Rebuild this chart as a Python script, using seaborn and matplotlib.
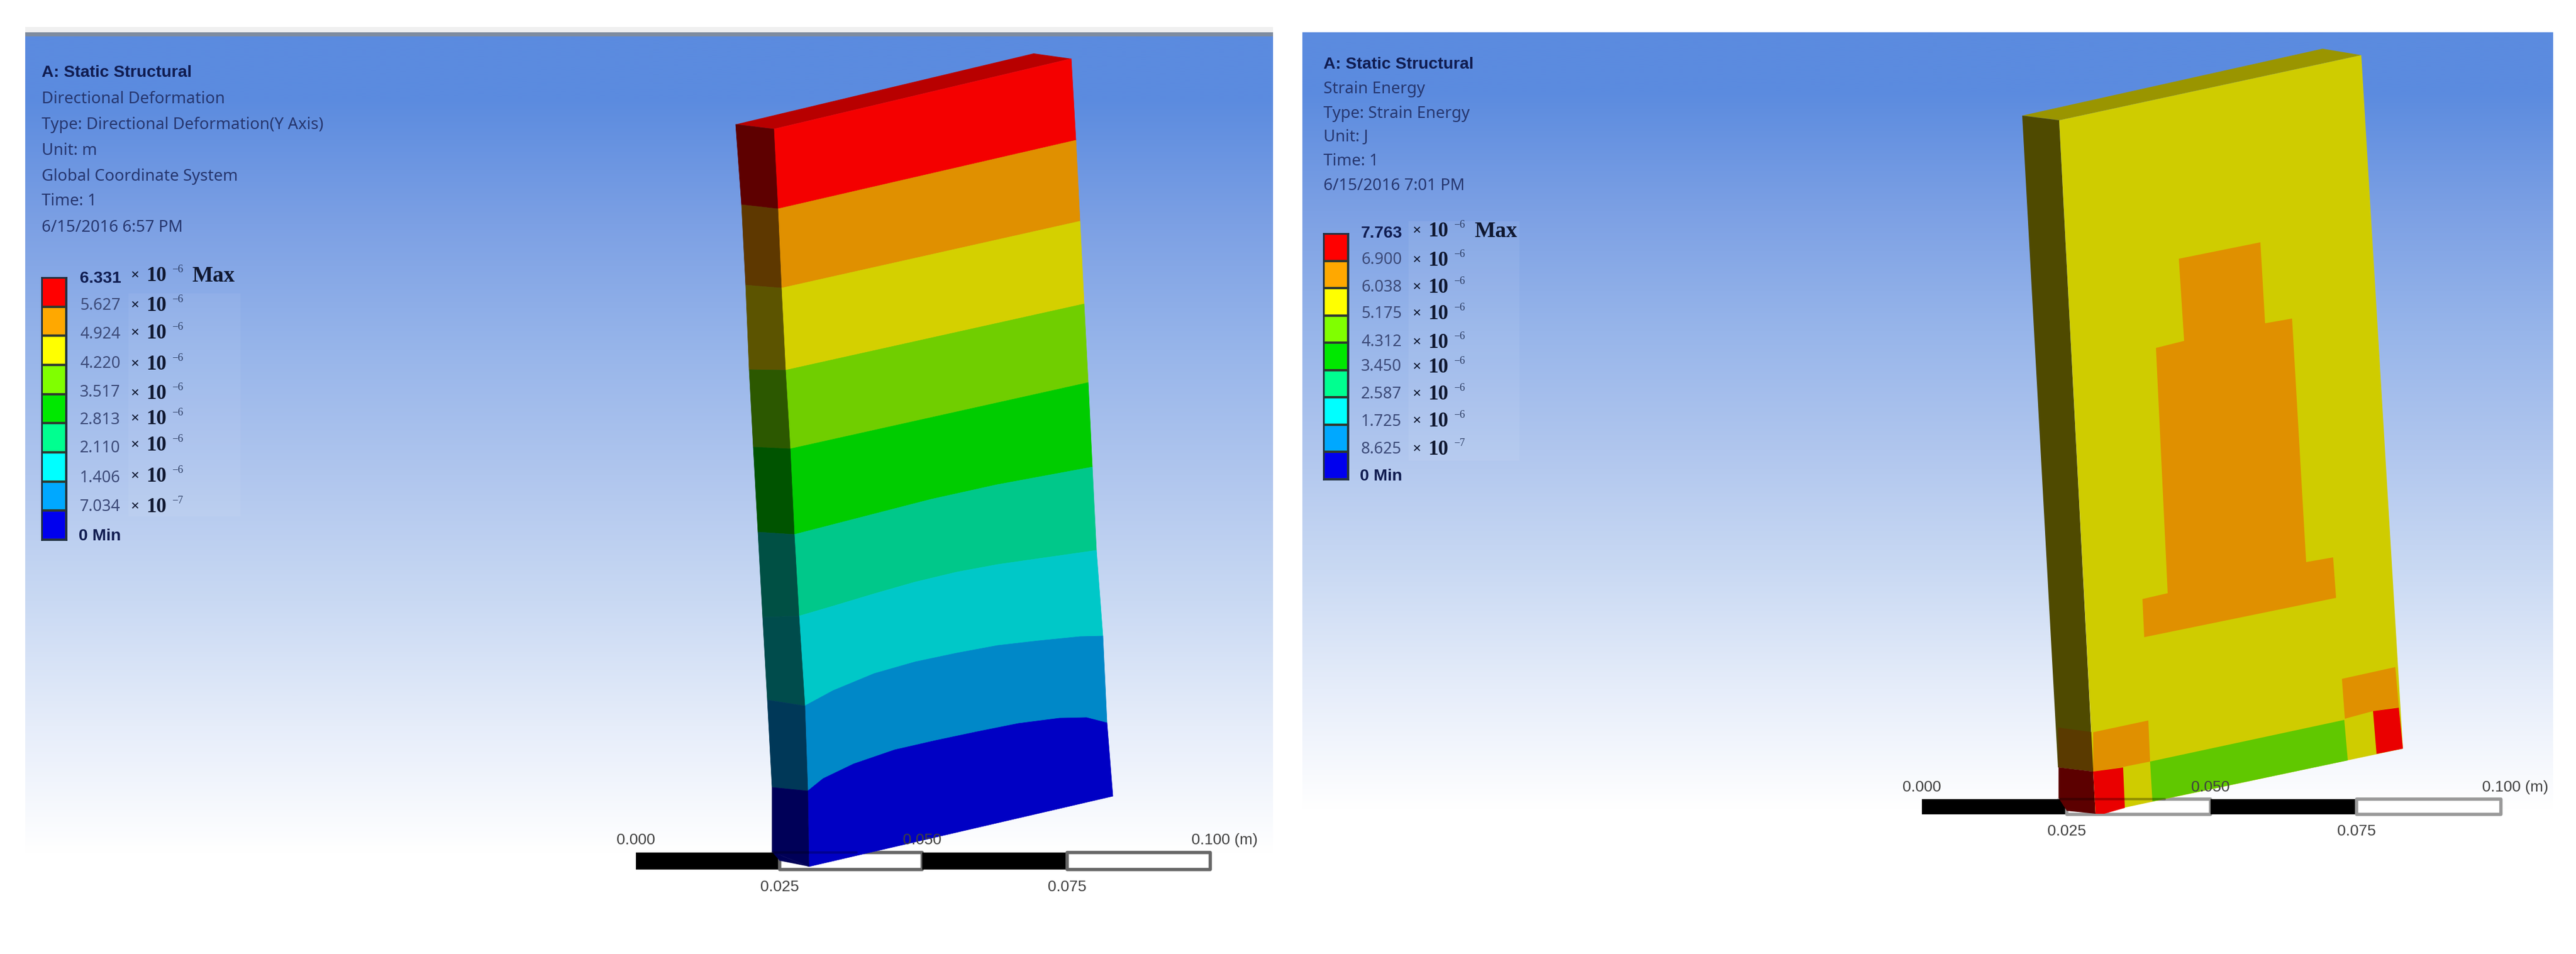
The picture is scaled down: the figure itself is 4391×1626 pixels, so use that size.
import matplotlib
matplotlib.use("Agg")
import matplotlib.pyplot as plt
from matplotlib.colors import ListedColormap, to_rgb
import numpy as np
import seaborn as sns

W, H = 4391, 1626

# contour legend, top to bottom
legend_colors = ["#ff0000", "#ffa800", "#ffff00", "#80ff00", "#00e800",
                 "#00ff90", "#00ffff", "#00a8ff", "#0000ee"]

left_header = ["A: Static Structural", "Directional Deformation", "Type: Directional Deformation(Y Axis)",
               "Unit: m", "Global Coordinate System", "Time: 1", "6/15/2016 6:57 PM"]
left_header_y = [124, 169, 213, 257, 301, 343, 388]
left_values = ["6.331", "5.627", "4.924", "4.220", "3.517", "2.813", "2.110", "1.406", "7.034"]
left_exps = ["−6", "−6", "−6", "−6", "−6", "−6", "−6", "−6", "−7"]
left_value_y = [475, 521, 570, 620, 669, 716, 764, 815, 864]
left_power_y = [470, 521, 568, 621, 671, 714, 759, 812, 864]

right_header = ["A: Static Structural", "Strain Energy", "Type: Strain Energy", "Unit: J", "Time: 1",
                "6/15/2016 7:01 PM"]
right_header_y = [110, 152, 194, 234, 275, 317]
right_values = ["7.763", "6.900", "6.038", "5.175", "4.312", "3.450", "2.587", "1.725", "8.625"]
right_exps = ["−6", "−6", "−6", "−6", "−6", "−6", "−6", "−6", "−7"]
right_value_y = [398, 443, 490, 535, 583, 625, 672, 719, 766]
right_power_y = [394, 444, 490, 535, 584, 626, 672, 718, 766]

# background gradient, equally spaced from top to bottom of a panel
bg_stops = ["#5b8bdf", "#7ca0e4", "#97b5ea", "#b0c6ee", "#c9d9f3", "#e6edfa", "#ffffff"]

# deformation plate: contour lines across the front face, top to bottom
front_lines = [
    [(1319, 220), (1826, 100)],
    [(1326, 356), (1834, 239)],
    [(1332, 491), (1841, 377)],
    [(1339, 631), (1848, 518)],
    [(1347, 765), (1855, 652)],
    [(1354, 911), (1587, 851), (1700, 826), (1862, 796)],
    [(1362, 1050), (1420, 1033), (1490, 1012), (1560, 992), (1631, 975), (1701, 962), (1771, 952), (1869, 938)],
    [(1372, 1203), (1420, 1177), (1490, 1148), (1560, 1128), (1631, 1113), (1701, 1100), (1771, 1092),
     (1841, 1085), (1880, 1084)],
    [(1377, 1348), (1403, 1327), (1455, 1302), (1525, 1278), (1595, 1262), (1666, 1247), (1736, 1233),
     (1806, 1224), (1852, 1223), (1887, 1232)],
    [(1379, 1477), (1897, 1357)],
]
front_colors = ["#f40000", "#e09000", "#d4d000", "#70ce00", "#00cc00",
                "#00c88a", "#00c8c8", "#0088c8", "#0000c4"]
side_outer = [(1254, 212), (1264, 349), (1271, 486), (1277, 630), (1284, 762),
              (1292, 907), (1300, 1052), (1308, 1193), (1316, 1342), (1316, 1452)]
side_colors = ["#5e0000", "#5e3800", "#5c5400", "#2c5800", "#005400",
               "#005044", "#004c4c", "#003858", "#000058"]
left_top_face = [(1254, 212), (1762, 91), (1826, 100), (1319, 220)]

# strain energy plate
right_front = [(3510, 205), (4025, 94), (4096, 1276), (3572, 1387)]
right_side = [(3447, 197), (3510, 205), (3568, 1315), (3508, 1308)]
right_side_brown = [(3508, 1240), (3568, 1248), (3568, 1315), (3509, 1308)]
right_side_red = [(3509, 1308), (3568, 1315), (3572, 1387), (3523, 1382), (3509, 1360)]
right_top_face = [(3447, 197), (3959, 83), (4025, 94), (3510, 205)]
orange_body = [(3714, 441), (3853, 413), (3861, 551), (3907, 543), (3931, 958), (3977, 950),
               (3982, 1019), (3655, 1086), (3652, 1021), (3695, 1011), (3675, 593), (3723, 581)]
orange_low_left = [(3568, 1248), (3662, 1228), (3665, 1298), (3620, 1307), (3568, 1315)]
orange_low_right = [(3992, 1157), (4083, 1137), (4089, 1205), (4045, 1212), (3997, 1225)]
red_low_left = [(3568, 1315), (3619, 1308), (3622, 1377), (3587, 1387), (3572, 1387)]
red_low_right = [(4045, 1212), (4089, 1206), (4096, 1276), (4051, 1285)]
green_strip = [(3665, 1298), (3996, 1227), (4002, 1296), (3669, 1366)]

sns.set_theme(style="white")
plt.rcParams["font.family"] = ["Noto Sans", "DejaVu Sans"]

fig = plt.figure(figsize=(W / 100, H / 100), dpi=100, facecolor="white")
ax = fig.add_axes([0, 0, 1, 1])
ax.set_axis_off()

grad = np.array([[to_rgb(c)] for c in bg_stops])
ax.imshow(grad, extent=(43, 2170, 1560, 62), aspect="auto", interpolation="bilinear", zorder=0)
ax.imshow(grad, extent=(2220, 4352, 1480, 56), aspect="auto", interpolation="bilinear", zorder=0)
ax.fill_between([43, 2170], 46, 55, color="#f0f0f0", lw=0, zorder=1)
ax.fill_between([43, 2170], 55, 62, color="#7f8c9f", lw=0, zorder=1)
ax.set_xlim(0, W)
ax.set_ylim(H, 0)

# faint patches behind the pasted legend values
ax.fill_between([219, 410], 500, 880, color="white", alpha=0.06, lw=0, zorder=1)
ax.fill_between([2401, 2590], 377, 785, color="white", alpha=0.07, lw=0, zorder=1)

# Noto Sans has no bold here, so bold lines use Liberation Sans
bold_kw = dict(family="Liberation Sans", fontweight="bold", fontsize=20.3, color="#101c50", va="center", zorder=5)


def draw_scale(x_ticks, y0, y1, y_up, y_low, border):
    for i in range(4):
        if i % 2 == 0:
            ax.fill_between(x_ticks[i:i + 2], y0, y1, color="black", lw=0, zorder=2)
        else:
            ax.fill_between(x_ticks[i:i + 2], y0, y1, facecolor="white", edgecolor=border, lw=4, zorder=2)
    kw = dict(family="Liberation Sans", fontsize=19, color="#404040", va="center", zorder=5)
    ax.text(x_ticks[0], y_up, "0.000", ha="center", **kw)
    ax.text(x_ticks[1], y_low, "0.025", ha="center", **kw)
    ax.text(x_ticks[2], y_up, "0.050", ha="center", **kw)
    ax.text(x_ticks[3], y_low, "0.075", ha="center", **kw)
    ax.text(x_ticks[4] - 32, y_up, "0.100 (m)", ha="left", **kw)


def draw_legend(bar_box, values, exps, value_y, power_y, x_val, x_times, x_ten, x_exp, x_max, y_min):
    x0, x1, y0, y1 = bar_box
    cax = fig.add_axes([x0 / W, 1 - y1 / H, (x1 - x0) / W, (y1 - y0) / H])
    levels = np.arange(len(legend_colors)).reshape(-1, 1)
    sns.heatmap(levels, cmap=ListedColormap(legend_colors), cbar=False, linewidths=1.5, linecolor="#303a30",
                xticklabels=False, yticklabels=False, ax=cax)
    for s in cax.spines.values():
        s.set_visible(True)
        s.set_color("#203040")
        s.set_linewidth(2)
    serif = dict(family="Liberation Serif", fontweight="bold", color="#101830", zorder=5)
    for i, (val, ex) in enumerate(zip(values, exps)):
        if i == 0:
            ax.text(x_val, value_y[i], val, **bold_kw)
        else:
            ax.text(x_val, value_y[i], val, fontsize=19.5, color="#3c4a78", va="center", zorder=5)
        ax.text(x_times, power_y[i], "×", fontsize=19, ha="center", va="center", **serif)
        ax.text(x_ten, power_y[i], "10", fontsize=25, ha="left", va="center", **serif)
        ax.text(x_exp, power_y[i] - 11, ex, fontsize=13, ha="left", va="center",
                family="Liberation Serif", color="#2a3a60", zorder=5)
    ax.text(x_max, power_y[0], "Max", fontsize=27, ha="left", va="center", **serif)
    ax.text(x_val - 2, y_min, "0 Min", **bold_kw)


def draw_header(x, lines, ys):
    ax.text(x, ys[0], lines[0], **bold_kw)
    for line, y in zip(lines[1:], ys[1:]):
        ax.text(x, y, line, fontsize=19.8, color="#26366e", va="center", zorder=5)


# left panel
draw_header(71, left_header, left_header_y)
draw_legend((71, 113, 473, 920), left_values, left_exps, left_value_y, left_power_y, 136, 230, 249, 293, 327, 914)
draw_scale([1084, 1329, 1572, 1819, 2063], 1453, 1482, 1432, 1512, "#666666")

ax.fill(*zip(*left_top_face), color="#b80000", lw=0, zorder=3)
for i in range(len(front_colors)):
    top, bottom = front_lines[i], front_lines[i + 1]
    inner_top, inner_bottom = top[0], bottom[0]
    band = top + bottom[::-1]
    ax.fill(*zip(*band), color=front_colors[i], lw=0.5, zorder=3)
    side = [side_outer[i], inner_top, inner_bottom, side_outer[i + 1]]
    ax.fill(*zip(*side), color=side_colors[i], lw=0.5, zorder=3)
ax.fill([1316, 1379, 1329], [1452, 1477, 1467], color=side_colors[-1], lw=0, zorder=3)
ax.plot([1316, 1460], [1453, 1453], color="black", alpha=0.25, lw=3, zorder=4)

# right panel
draw_header(2256, right_header, right_header_y)
draw_legend((2256, 2298, 398, 817), right_values, right_exps, right_value_y, right_power_y,
            2320, 2415, 2434, 2478, 2513, 812)
draw_scale([3276, 3523, 3768, 4017, 4263], 1362, 1388, 1342, 1417, "#999999")

ax.fill(*zip(*right_top_face), color="#9a9500", lw=0, zorder=3)
ax.fill(*zip(*right_side), color="#4f4a00", lw=0, zorder=3)
ax.fill(*zip(*right_side_brown), color="#5a3a00", lw=0, zorder=3)
ax.fill(*zip(*right_side_red), color="#5c0000", lw=0, zorder=3)
ax.fill(*zip(*right_front), color="#cfcc00", lw=0, zorder=3)
for poly, col in [(orange_body, "#e09000"), (orange_low_left, "#e09000"), (orange_low_right, "#e09000"),
                  (red_low_left, "#ea0000"), (red_low_right, "#ea0000"), (green_strip, "#60c800")]:
    ax.fill(*zip(*poly), color=col, lw=0, zorder=3)
ax.plot([3509, 3690], [1362, 1362], color="black", alpha=0.3, lw=3, zorder=4)

fig.savefig("out.png", dpi=100, facecolor="white")
